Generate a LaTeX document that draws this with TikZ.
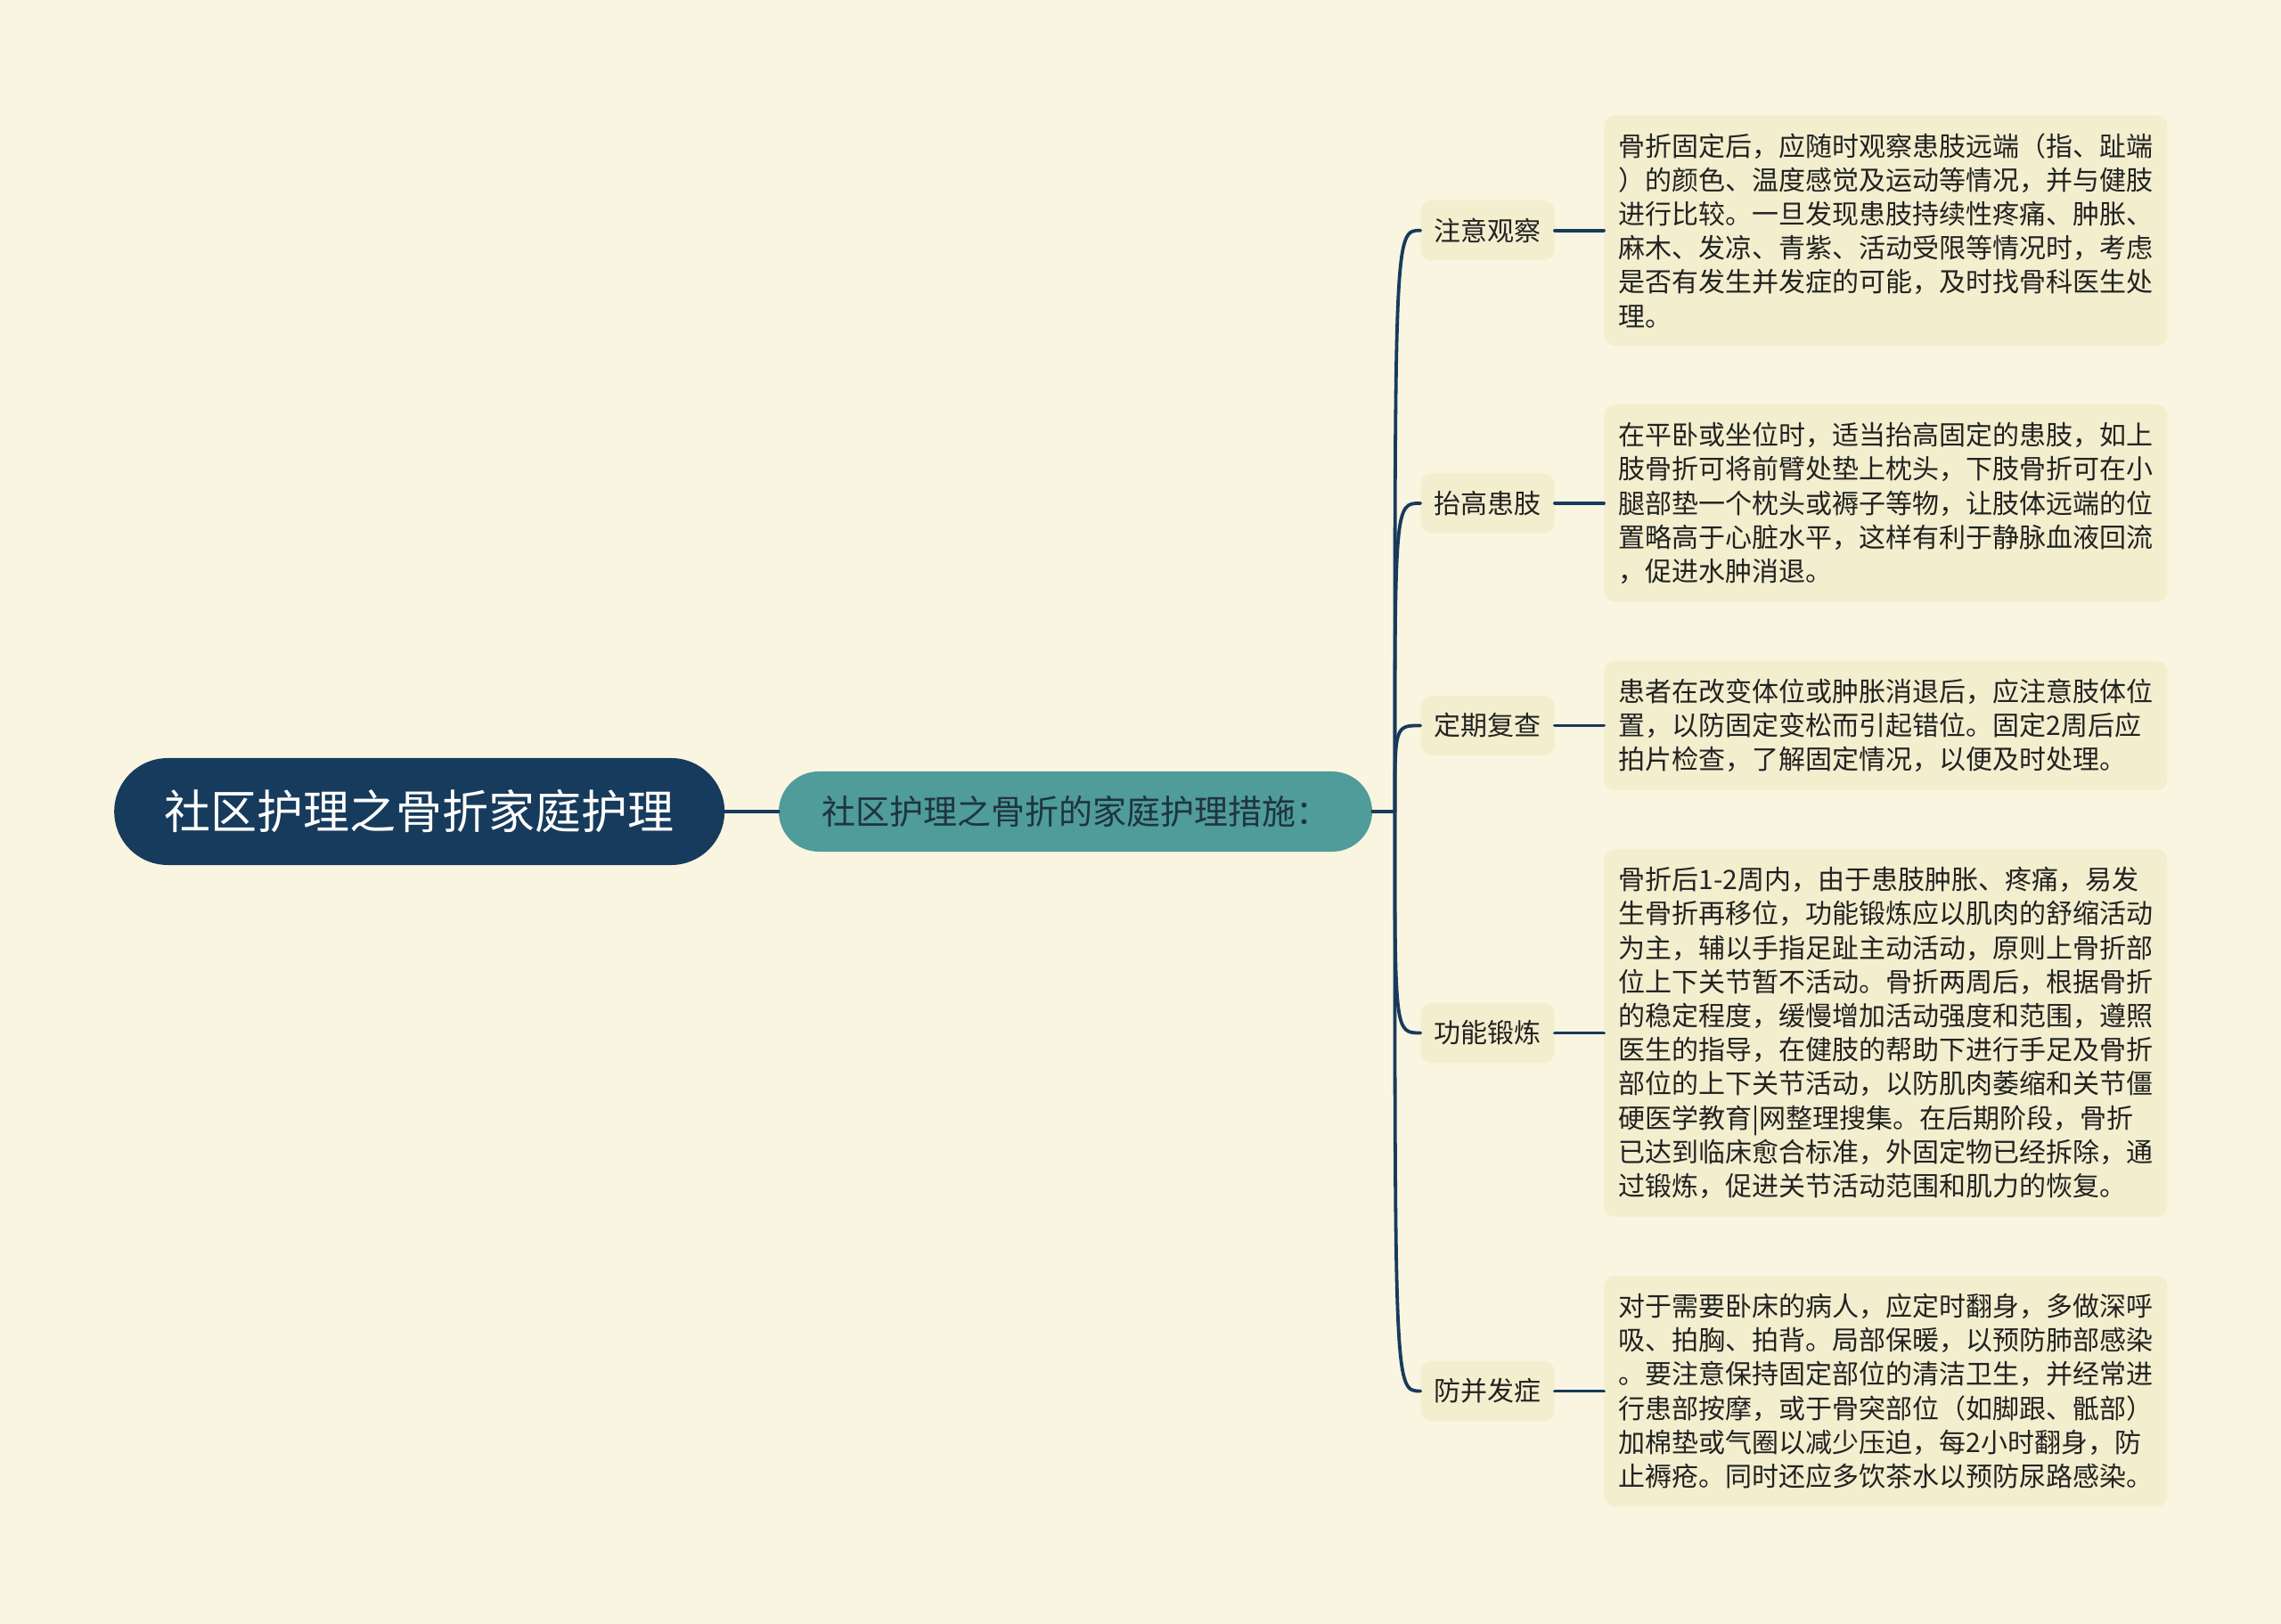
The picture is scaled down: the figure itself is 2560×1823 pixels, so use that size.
\documentclass[tikz,border=0pt]{standalone}
\usepackage{fontspec}
\newfontfamily\cjk{Noto Sans CJK SC}
\usetikzlibrary{positioning,calc}
\definecolor{bgcol}{HTML}{FAF5E0}
\definecolor{navy}{HTML}{173B5C}
\definecolor{tealcol}{HTML}{4F9C9A}
\definecolor{boxcol}{HTML}{F3EECE}
\definecolor{subtxt}{HTML}{1F3440}
\definecolor{txtcol}{HTML}{222222}
\tikzstyle{rootbox}=[rectangle, rounded corners=30pt, fill=navy, text=white, minimum width=342.5pt, minimum height=60pt, inner sep=0pt, font=\cjk\fontsize{26pt}{31pt}\selectfont]
\tikzstyle{subbox}=[rectangle, rounded corners=22.5pt, fill=tealcol, text=subtxt, minimum width=333pt, minimum height=45pt, inner sep=0pt, font=\cjk\fontsize{19pt}{23pt}\selectfont]
\tikzstyle{catbox}=[rectangle, rounded corners=6pt, fill=boxcol, text=txtcol, minimum width=75pt, minimum height=33.5pt, inner sep=0pt, font=\cjk\fontsize{15pt}{18pt}\selectfont]
\tikzstyle{txtbox}=[rectangle, rounded corners=6pt, fill=boxcol, text=txtcol, text width=300pt, align=left, inner xsep=8pt, inner ysep=10pt, font=\cjk\fontsize{15pt}{19.1pt}\selectfont]
\tikzstyle{pline}=[-, line width=1.9pt, draw=navy, line cap=round]

\begin{document}
\begin{tikzpicture}[x=0.5pt, y=-0.5pt, node distance=0pt]
\fill[bgcol] (0,0) rectangle (2560,1823);
\useasboundingbox (0,0) rectangle (2560,1823);
\node (SUB) [subbox] at (1207,911) {社区护理之骨折的家庭护理措施：};
\node (ROOT) [rootbox, left=30pt of SUB] {社区护理之骨折家庭护理};
 \draw[pline] (ROOT.east) -- (SUB.west);
\coordinate (HUB) at ($(SUB.east)+(12.5pt,0)$);
 \draw[pline] (SUB.east) -- (HUB);
\node (OBSD) [txtbox, anchor=north west] at (1800,129) {骨折固定后，应随时观察患肢远端（指、趾端\\）的颜色、温度感觉及运动等情况，并与健肢\\进行比较。一旦发现患肢持续性疼痛、肿胀、\\麻木、发凉、青紫、活动受限等情况时，考虑\\是否有发生并发症的可能，及时找骨科医生处\\理。};
\node (OBS) [catbox, left=27.5pt of OBSD] {注意观察};
 \draw[pline] (HUB) .. controls (HUB |- OBS.west) .. (OBS.west);
 \draw[pline] (OBS.east) -- (OBSD.west);
\node (ELEVD) [txtbox, below=32.75pt of OBSD] {在平卧或坐位时，适当抬高固定的患肢，如上\\肢骨折可将前臂处垫上枕头，下肢骨折可在小\\腿部垫一个枕头或褥子等物，让肢体远端的位\\置略高于心脏水平，这样有利于静脉血液回流\\，促进水肿消退。};
\node (ELEV) [catbox, left=27.5pt of ELEVD] {抬高患肢};
 \draw[pline] (HUB) .. controls (HUB |- ELEV.west) .. (ELEV.west);
 \draw[pline] (ELEV.east) -- (ELEVD.west);
\node (CHKD) [txtbox, below=32.75pt of ELEVD] {患者在改变体位或肿胀消退后，应注意肢体位\\置，以防固定变松而引起错位。固定2周后应\\拍片检查，了解固定情况，以便及时处理。};
\node (CHK) [catbox, left=27.5pt of CHKD] {定期复查};
 \draw[pline] (HUB) .. controls (HUB |- CHK.west) .. (CHK.west);
 \draw[pline] (CHK.east) -- (CHKD.west);
\node (EXERD) [txtbox, below=32.75pt of CHKD] {骨折后1-2周内，由于患肢肿胀、疼痛，易发\\生骨折再移位，功能锻炼应以肌肉的舒缩活动\\为主，辅以手指足趾主动活动，原则上骨折部\\位上下关节暂不活动。骨折两周后，根据骨折\\的稳定程度，缓慢增加活动强度和范围，遵照\\医生的指导，在健肢的帮助下进行手足及骨折\\部位的上下关节活动，以防肌肉萎缩和关节僵\\硬医学教育|网整理搜集。在后期阶段，骨折\\已达到临床愈合标准，外固定物已经拆除，通\\过锻炼，促进关节活动范围和肌力的恢复。};
\node (EXER) [catbox, left=27.5pt of EXERD] {功能锻炼};
 \draw[pline] (HUB) .. controls (HUB |- EXER.west) .. (EXER.west);
 \draw[pline] (EXER.east) -- (EXERD.west);
\node (PREVD) [txtbox, below=32.75pt of EXERD] {对于需要卧床的病人，应定时翻身，多做深呼\\吸、拍胸、拍背。局部保暖，以预防肺部感染\\。要注意保持固定部位的清洁卫生，并经常进\\行患部按摩，或于骨突部位（如脚跟、骶部）\\加棉垫或气圈以减少压迫，每2小时翻身，防\\止褥疮。同时还应多饮茶水以预防尿路感染。};
\node (PREV) [catbox, left=27.5pt of PREVD] {防并发症};
 \draw[pline] (HUB) .. controls (HUB |- PREV.west) .. (PREV.west);
 \draw[pline] (PREV.east) -- (PREVD.west);
\end{tikzpicture}
\end{document}
